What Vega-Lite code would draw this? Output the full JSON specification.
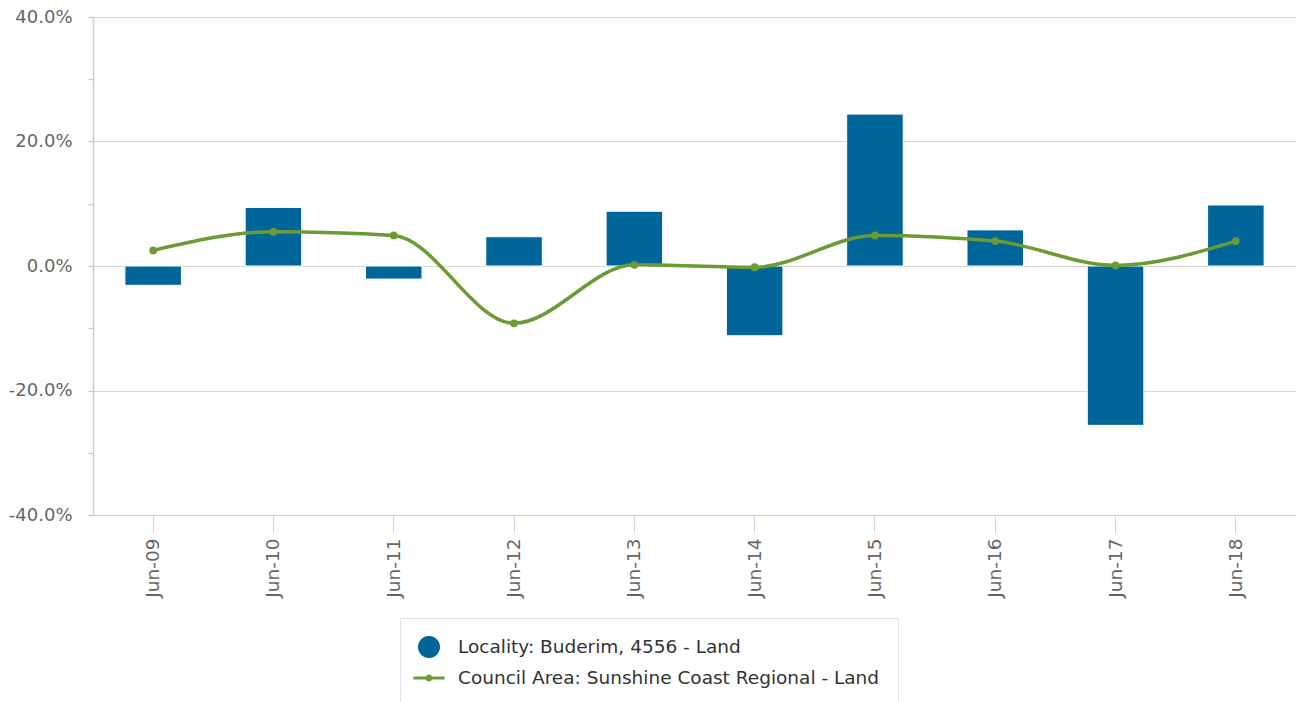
{
  "$schema": "https://vega.github.io/schema/vega-lite/v6.json",
  "width": 1203,
  "height": 498,
  "padding": {"left": 8, "top": 8, "right": 0, "bottom": 0},
  "background": "white",
  "config": {"view": {"stroke": null}, "font": "DejaVu Sans"},
  "datasets": {
    "locality": [
      {"period": "Jun-09", "value": -0.031, "series": "Locality: Buderim, 4556 - Land"},
      {"period": "Jun-10", "value": 0.094, "series": "Locality: Buderim, 4556 - Land"},
      {"period": "Jun-11", "value": -0.021, "series": "Locality: Buderim, 4556 - Land"},
      {"period": "Jun-12", "value": 0.047, "series": "Locality: Buderim, 4556 - Land"},
      {"period": "Jun-13", "value": 0.088, "series": "Locality: Buderim, 4556 - Land"},
      {"period": "Jun-14", "value": -0.112, "series": "Locality: Buderim, 4556 - Land"},
      {"period": "Jun-15", "value": 0.244, "series": "Locality: Buderim, 4556 - Land"},
      {"period": "Jun-16", "value": 0.058, "series": "Locality: Buderim, 4556 - Land"},
      {"period": "Jun-17", "value": -0.256, "series": "Locality: Buderim, 4556 - Land"},
      {"period": "Jun-18", "value": 0.098, "series": "Locality: Buderim, 4556 - Land"}
    ],
    "council": [
      {"period": "Jun-09", "value": 0.025, "series": "Council Area: Sunshine Coast Regional - Land"},
      {"period": "Jun-10", "value": 0.055, "series": "Council Area: Sunshine Coast Regional - Land"},
      {"period": "Jun-11", "value": 0.049, "series": "Council Area: Sunshine Coast Regional - Land"},
      {"period": "Jun-12", "value": -0.092, "series": "Council Area: Sunshine Coast Regional - Land"},
      {"period": "Jun-13", "value": 0.002, "series": "Council Area: Sunshine Coast Regional - Land"},
      {"period": "Jun-14", "value": -0.002, "series": "Council Area: Sunshine Coast Regional - Land"},
      {"period": "Jun-15", "value": 0.049, "series": "Council Area: Sunshine Coast Regional - Land"},
      {"period": "Jun-16", "value": 0.040, "series": "Council Area: Sunshine Coast Regional - Land"},
      {"period": "Jun-17", "value": 0.001, "series": "Council Area: Sunshine Coast Regional - Land"},
      {"period": "Jun-18", "value": 0.040, "series": "Council Area: Sunshine Coast Regional - Land"}
    ],
    "legendItems": [
      {"series": "Locality: Buderim, 4556 - Land"},
      {"series": "Council Area: Sunshine Coast Regional - Land"}
    ]
  },
  "layer": [
    {
      "data": {"name": "legendItems"},
      "mark": {"type": "point", "filled": true, "opacity": 0},
      "encoding": {
        "color": {
          "field": "series", "type": "nominal",
          "scale": {"domain": ["Locality: Buderim, 4556 - Land", "Council Area: Sunshine Coast Regional - Land"], "range": ["#006699", "#6b9b35"]},
          "legend": {
            "orient": "none", "legendX": 307, "legendY": 601, "direction": "vertical", "title": null,
            "labelFont": "DejaVu Sans", "labelFontSize": 18.5, "labelColor": "#333333",
            "symbolSize": 484, "symbolOpacity": 1, "symbolStrokeWidth": 0,
            "padding": 18, "rowPadding": 9, "labelOffset": 18,
            "strokeColor": "#e6e6e6", "labelLimit": 700
          }
        },
        "shape": {
          "field": "series", "type": "nominal",
          "scale": {
            "domain": ["Locality: Buderim, 4556 - Land", "Council Area: Sunshine Coast Regional - Land"],
            "range": ["circle", "M-1.41,-0.14L1.41,-0.14L1.41,0.14L-1.41,0.14Z M-0.32,0A0.32,0.32 0 1,1 0.32,0A0.32,0.32 0 1,1 -0.32,0Z"]
          },
          "legend": {
            "orient": "none", "legendX": 307, "legendY": 601, "direction": "vertical", "title": null,
            "labelFont": "DejaVu Sans", "labelFontSize": 18.5, "labelColor": "#333333",
            "symbolSize": 484, "symbolOpacity": 1, "symbolStrokeWidth": 0,
            "padding": 18, "rowPadding": 9, "labelOffset": 18,
            "strokeColor": "#e6e6e6", "labelLimit": 700
          }
        }
      }
    },
    {
      "data": {"name": "locality"},
      "mark": {"type": "bar", "stroke": "white", "strokeWidth": 1},
      "encoding": {
        "x": {
          "field": "period", "type": "nominal", "sort": null,
          "scale": {"paddingInner": 0.53, "paddingOuter": 0.265},
          "axis": {
            "title": null, "labelAngle": -90, "labelFont": "DejaVu Sans", "labelFontSize": 18.5,
            "labelColor": "#666666", "tickColor": "#ccd6eb", "tickSize": 18, "tickWidth": 1,
            "labelPadding": 5, "domainColor": "#cccccc", "domainWidth": 1, "grid": false
          }
        },
        "y": {
          "field": "value", "type": "quantitative",
          "scale": {"domain": [-0.4, 0.4], "nice": false, "zero": false},
          "axis": {
            "title": null,
            "values": [-0.4, -0.35, -0.3, -0.25, -0.2, -0.15, -0.1, -0.05, 0, 0.05, 0.1, 0.15, 0.2, 0.25, 0.3, 0.35, 0.4],
            "format": ".1%",
            "labelExpr": "abs(round(datum.value*100)) % 20 == 0 ? replace(datum.label, '\u2212', '-') : ''",
            "labelFont": "DejaVu Sans", "labelFontSize": 18, "labelColor": "#666666",
            "labelPadding": 16, "tickSize": 5, "tickColor": "#c4c4c4", "tickWidth": 1.2,
            "domainColor": "#cccccc", "domainWidth": 1.5,
            "gridColor": "#d6d6d6", "gridWidth": 1,
            "gridOpacity": {"condition": {"test": "abs(round(datum.value*100)) % 20 == 0", "value": 1}, "value": 0}
          }
        },
        "color": {"field": "series", "type": "nominal"}
      }
    },
    {
      "data": {"name": "council"},
      "mark": {"type": "line", "interpolate": "monotone", "strokeWidth": 3.5},
      "encoding": {
        "x": {"field": "period", "type": "nominal", "sort": null},
        "y": {"field": "value", "type": "quantitative"},
        "color": {"field": "series", "type": "nominal"}
      }
    },
    {
      "data": {"name": "council"},
      "mark": {"type": "point", "filled": true, "opacity": 1, "size": 60, "shape": "circle"},
      "encoding": {
        "x": {"field": "period", "type": "nominal", "sort": null},
        "y": {"field": "value", "type": "quantitative"},
        "color": {"field": "series", "type": "nominal"}
      }
    }
  ]
}
